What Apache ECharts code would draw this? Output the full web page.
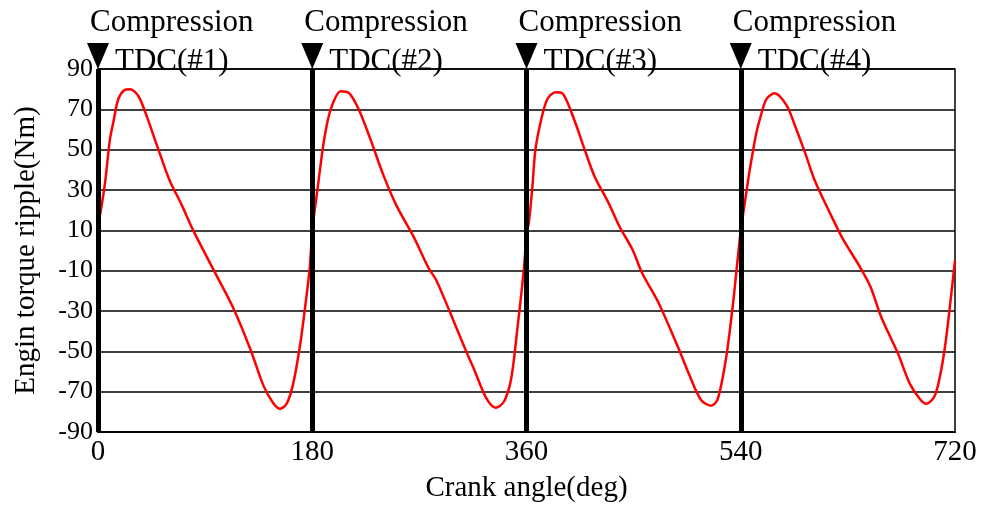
<!DOCTYPE html>
<html>
<head>
<meta charset="utf-8">
<script src="https://cdn.jsdelivr.net/npm/echarts@6/dist/echarts.min.js"></script>
<style>
  html, body { margin: 0; padding: 0; background: #fff; }
  #chart { width: 984px; height: 508px; }
</style>
</head>
<body>
<div id="chart"></div>
<script>
// Crank angle (deg) and engine torque ripple (Nm) over two crankshaft revolutions
const angle = [
  0, 3, 6, 10, 13, 17, 22, 27, 34, 41, 49, 60, 70, 80, 97, 114, 128, 139, 147, 153, 158.5, 164, 170, 175.5, 178,
  180, 184, 190, 195.5, 204, 211, 219, 229, 240, 251, 265, 278, 284, 296, 310, 316, 326, 334, 341, 347, 352.5, 358,
  360, 362, 365, 367.5, 372, 377.5, 384.5, 390, 400, 408, 417, 429, 438, 449, 457, 471, 487, 497, 506.5, 515, 520.5, 527.5, 533, 536.5,
  540, 543, 547, 550.5, 553, 556, 561.5, 568.5, 578.5, 585.5, 594, 602, 615, 626, 640, 649, 658, 672, 682, 691, 696, 703, 707.5, 712, 717, 720
];
const torque = [
  12, 22, 34, 55, 64, 75, 79.5, 80, 76.5, 66.5, 53, 35, 23, 10, -9.5, -29, -49, -67, -75.5, -78.5, -76, -66, -46, -21, -8,
  10, 28.5, 55, 70, 79, 78, 70, 55, 37, 22, 7, -9, -14.5, -31, -51, -59, -73, -78, -75, -64, -38, -8,
  8, 14, 32, 50, 64, 75, 78.5, 78, 65, 51.5, 37, 23.5, 12, 0.5, -11, -26, -47.5, -62, -74, -77, -74, -54, -29, -9.5,
  10, 22, 38, 50, 58, 65, 75, 78, 72, 62, 48.5, 35, 18.5, 5.5, -8, -18, -33, -51, -66, -74, -76, -72, -62, -46, -21, -5
];

// Compression top dead centre of each cylinder
const tdcAngle = [0, 180, 360, 540];
const tdcLabel = ['TDC(#1)', 'TDC(#2)', 'TDC(#3)', 'TDC(#4)'];
const strokeLabel = 'Compression';

const xTicks = [0, 180, 360, 540, 720];
const yTicks = [-90, -70, -50, -30, -10, 10, 30, 50, 70, 90];

const FONT = '"Liberation Serif", "DejaVu Serif", serif';
const yMax = yTicks[yTicks.length - 1];

const chart = echarts.init(document.getElementById('chart'), null, { renderer: 'canvas' });

chart.setOption({
  animation: false,
  backgroundColor: '#fff',
  grid: {
    left: 98, right: 29, top: 69, bottom: 76,
    show: true, borderColor: '#000', borderWidth: 1.5
  },
  xAxis: {
    type: 'value',
    min: xTicks[0], max: xTicks[xTicks.length - 1], interval: 180,
    name: 'Crank angle(deg)',
    nameLocation: 'middle', nameGap: 42,
    nameTextStyle: { fontFamily: FONT, fontSize: 29, color: '#000' },
    axisLine: { show: true, onZero: false, lineStyle: { color: '#000', width: 2 } },
    axisTick: { show: false },
    splitLine: { show: false },
    axisLabel: { fontFamily: FONT, fontSize: 29, color: '#000', margin: 6 }
  },
  yAxis: {
    type: 'value',
    min: yTicks[0], max: yMax, interval: 20,
    name: 'Engin torque ripple(Nm)',
    nameLocation: 'middle', nameGap: 57, nameRotate: 90,
    nameTextStyle: { fontFamily: FONT, fontSize: 29, color: '#000' },
    axisLine: { show: false },
    axisTick: { show: false },
    splitLine: { show: true, lineStyle: { color: '#000', width: 1.5 } },
    axisLabel: { fontFamily: FONT, fontSize: 26, color: '#000', margin: 5 }
  },
  series: [
    {
      name: 'torque',
      type: 'line',
      data: angle.map((a, i) => [a, torque[i]]),
      showSymbol: false,
      smooth: 0.3,
      lineStyle: { color: '#ff0000', width: 2.5 },
      z: 3
    },
    {
      // thick TDC marker lines
      name: 'tdcLines',
      type: 'line',
      data: [],
      z: 5,
      markLine: {
        silent: true,
        symbol: 'none',
        label: { show: false },
        lineStyle: { color: '#000', width: 5, type: 'solid' },
        data: tdcAngle.map(a => ({ xAxis: a }))
      }
    },
    {
      // downward triangles with TDC labels
      name: 'tdc',
      type: 'scatter',
      clip: false,
      silent: true,
      z: 6,
      symbol: 'triangle',
      symbolRotate: 180,
      symbolSize: [22, 26],
      symbolOffset: [0, -13],
      itemStyle: { color: '#000', opacity: 1 },
      label: {
        show: true,
        position: 'inside',
        align: 'left',
        verticalAlign: 'middle',
        offset: [17, 6],
        fontFamily: FONT,
        fontSize: 31,
        color: '#000',
        formatter: p => tdcLabel[p.dataIndex]
      },
      data: tdcAngle.map(a => [a, yMax])
    },
    {
      // stroke name above each marker
      name: 'stroke',
      type: 'scatter',
      clip: false,
      silent: true,
      z: 6,
      symbolSize: 0,
      itemStyle: { color: '#fff', opacity: 1 },
      label: {
        show: true,
        position: 'inside',
        align: 'left',
        verticalAlign: 'middle',
        offset: [-8, -46],
        fontFamily: FONT,
        fontSize: 31,
        color: '#000',
        formatter: () => strokeLabel
      },
      data: tdcAngle.map(a => [a, yMax])
    }
  ]
});
</script>
</body>
</html>
